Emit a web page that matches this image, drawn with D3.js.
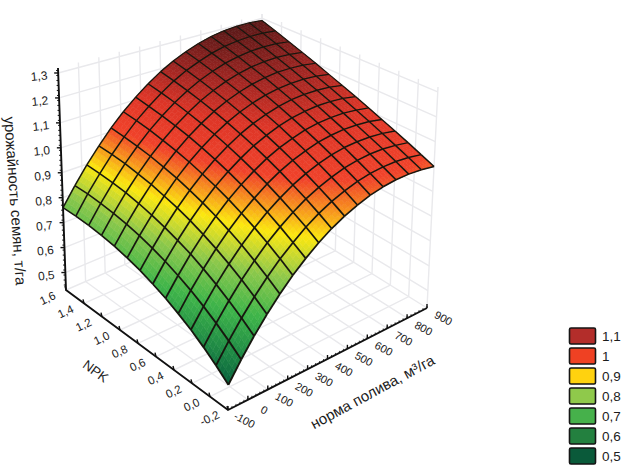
<!DOCTYPE html>
<html>
<head>
<meta charset="utf-8">
<script src="https://cdnjs.cloudflare.com/ajax/libs/d3/7.8.5/d3.min.js"></script>
<style>
body { margin: 0; background: #fff; }
text { font-family: "Liberation Sans", Arial, sans-serif; fill: #1c1c1c; }
</style>
</head>
<body>
<svg id="chart" width="621" height="465"></svg>
<script>
// values
var normaValues = [-100,-37.5,25,87.5,150,212.5,275,337.5,400,462.5,525,587.5,650,712.5,775,837.5,900];
var npkValues = [-0.2,-0.062,0.077,0.215,0.354,0.492,0.631,0.769,0.908,1.046,1.185,1.323,1.462,1.6];

// one row per npk value, one column per norma value
var yieldRows = [
  [.520,.588,.651,.709,.762,.810,.852,.890,.923,.950,.972,.990,1.002,1.009,1.011,1.008,1.000],
  [.557,.624,.686,.743,.795,.842,.883,.921,.953,.979,1.000,1.017,1.028,1.034,1.035,1.031,1.022],
  [.591,.657,.718,.775,.826,.873,.913,.949,.981,1.006,1.026,1.043,1.053,1.059,1.059,1.054,1.045],
  [.622,.687,.748,.804,.855,.901,.941,.976,1.007,1.032,1.052,1.068,1.078,1.082,1.082,1.077,1.067],
  [.649,.715,.775,.831,.881,.927,.966,1.002,1.032,1.057,1.076,1.092,1.101,1.106,1.105,1.100,1.089],
  [.674,.739,.800,.855,.905,.951,.990,1.025,1.056,1.080,1.099,1.115,1.124,1.128,1.128,1.122,1.112],
  [.695,.761,.821,.877,.927,.973,1.012,1.047,1.078,1.102,1.122,1.137,1.146,1.151,1.150,1.145,1.134],
  [.714,.779,.840,.896,.946,.992,1.032,1.067,1.098,1.123,1.142,1.158,1.168,1.172,1.172,1.167,1.156],
  [.729,.795,.856,.912,.964,1.010,1.050,1.086,1.117,1.142,1.162,1.178,1.188,1.193,1.193,1.188,1.178],
  [.742,.808,.870,.927,.978,1.025,1.066,1.102,1.134,1.160,1.181,1.197,1.208,1.214,1.214,1.210,1.201],
  [.751,.818,.881,.938,.991,1.038,1.080,1.117,1.150,1.176,1.198,1.215,1.227,1.233,1.235,1.231,1.223],
  [.757,.825,.889,.948,1.001,1.050,1.092,1.131,1.164,1.192,1.214,1.233,1.245,1.253,1.255,1.253,1.245],
  [.760,.830,.894,.954,1.009,1.059,1.102,1.142,1.177,1.206,1.229,1.249,1.263,1.271,1.275,1.274,1.268],
  [.760,.831,.897,.958,1.015,1.066,1.111,1.152,1.188,1.218,1.243,1.264,1.280,1.290,1.295,1.295,1.290]
];

var normaTicks = [-100,0,100,200,300,400,500,600,700,800,900];
var npkTicks = [-0.2,0,0.2,0.4,0.6,0.8,1,1.2,1.4,1.6];
var yieldTicks = [0.5,0.6,0.7,0.8,0.9,1,1.1,1.2,1.3];

var legendLabels = ["1,1","1","0,9","0,8","0,7","0,6","0,5"];
var legendColors = ["#b32d2a","#ef4123","#ffd20f","#8fc94b","#46b14b","#23803f","#0a5a3a"];

var colorStops = [0.5,0.6,0.7,0.8,0.855,0.9,0.96,1.02,1.12,1.2,1.3];
var colorRange = ["#03563a","#1f8a45","#3fb54a","#8cc84b","#c9d92f","#fbe70f","#f7941d","#f0422a","#dd3527","#a32622","#561817"];

var svg = d3.select("#chart");

var color = d3.scaleLinear().domain(colorStops).range(colorRange);

// data values to 0..1 along the box edges
var uScale = d3.scaleLinear().domain([-100,900]).range([0,1]);
var vScale = d3.scaleLinear().domain([-0.2,1.6]).range([0,1]);
var wScale = d3.scaleLinear().domain([0.43,1.32]).range([0,1]);

// the box on screen, bottom and top corners
var box = {
  front: [[228,410],[232,160]],
  right: [[427,308],[438,87]],
  left: [[66,290],[58,68]],
  back: [[262,205],[262,14]]
};

function mix(a, b, t) { return [a[0]+(b[0]-a[0])*t, a[1]+(b[1]-a[1])*t]; }

function project(u, v, w) {
  var bottom = mix(mix(box.front[0],box.right[0],u), mix(box.left[0],box.back[0],u), v);
  var top = mix(mix(box.front[1],box.right[1],u), mix(box.left[1],box.back[1],u), v);
  return mix(bottom, top, w);
}

function pt(x, n, z) { return project(uScale(x), vScale(n), wScale(z)); }

var line = d3.line();

// grid on the walls and floor
var grid = svg.append("g").attr("fill","none").attr("stroke","#e9e9ec").attr("stroke-width",1.4);
yieldTicks.forEach(function(z){
  grid.append("path").attr("d", line([pt(-100,1.6,z), pt(900,1.6,z), pt(900,-0.2,z)]));
});
normaTicks.forEach(function(x){
  grid.append("path").attr("d", line([pt(x,-0.2,0.43), pt(x,1.6,0.43), pt(x,1.6,1.32)]));
});
npkTicks.forEach(function(n){
  grid.append("path").attr("d", line([pt(-100,n,0.43), pt(900,n,0.43), pt(900,n,1.32)]));
});

// surface: each mesh cell is shaded in small steps so the colour runs smoothly
var shade = svg.append("g");
var steps = 4;
function cornerAt(j, i, s, t) {
  var z00 = yieldRows[j][i], z10 = yieldRows[j][i+1], z01 = yieldRows[j+1][i], z11 = yieldRows[j+1][i+1];
  var z = z00*(1-s)*(1-t) + z10*s*(1-t) + z01*(1-s)*t + z11*s*t;
  var x = normaValues[i] + (normaValues[i+1]-normaValues[i])*s;
  var n = npkValues[j] + (npkValues[j+1]-npkValues[j])*t;
  return {p: pt(x,n,z), z: z};
}
for (var j = npkValues.length-2; j >= 0; j--) {
  for (var i = normaValues.length-2; i >= 0; i--) {
    for (var a = 0; a < steps; a++) {
      for (var b = 0; b < steps; b++) {
        var c = [cornerAt(j,i,a/steps,b/steps), cornerAt(j,i,(a+1)/steps,b/steps),
                 cornerAt(j,i,(a+1)/steps,(b+1)/steps), cornerAt(j,i,a/steps,(b+1)/steps)];
        var col = color(d3.mean(c, function(d){ return d.z; }));
        shade.append("polygon")
          .attr("points", c.map(function(d){ return d.p.join(","); }).join(" "))
          .attr("fill", col).attr("stroke", col).attr("stroke-width",0.6);
      }
    }
  }
}

// mesh lines, thicker toward the viewer
var mesh = svg.append("g").attr("fill","none").attr("stroke","#17170f").attr("stroke-linejoin","round");
npkValues.forEach(function(n, j){
  for (var i = 0; i < normaValues.length-1; i++) {
    mesh.append("path")
      .attr("d", line([pt(normaValues[i],n,yieldRows[j][i]), pt(normaValues[i+1],n,yieldRows[j][i+1])]))
      .attr("stroke-width", 1.9 - 0.8*(j+i)/29);
  }
});
normaValues.forEach(function(x, i){
  for (var j = 0; j < npkValues.length-1; j++) {
    mesh.append("path")
      .attr("d", line([pt(x,npkValues[j],yieldRows[j][i]), pt(x,npkValues[j+1],yieldRows[j+1][i])]))
      .attr("stroke-width", 1.9 - 0.8*(j+i)/29);
  }
});

// axes
var axes = svg.append("g").attr("fill","none").attr("stroke","#111");
axes.append("path").attr("stroke-width",1.9)
  .attr("d", line([pt(-100,1.6,1.32), pt(-100,1.6,0.43), pt(-100,-0.2,0.43), pt(900,-0.2,0.43)]));

function tick(from, dx, dy, w) {
  axes.append("path").attr("stroke-width",w||1).attr("d", line([from,[from[0]+dx,from[1]+dy]]));
}
d3.range(0.45,1.31,0.02).forEach(function(z){ tick(pt(-100,1.6,z),-2,0,1); });
yieldTicks.forEach(function(z){ tick(pt(-100,1.6,z),-4,0,1.4); });
npkTicks.forEach(function(n){ tick(pt(-100,n,0.43),-1,-4,1.4); });
d3.range(-100,901,20).forEach(function(x){ tick(pt(x,-0.2,0.43),0,-2,0.8); });
normaTicks.forEach(function(x){ tick(pt(x,-0.2,0.43),0,-4,1.4); });

function comma(v) { return String(v).replace(".",","); }

function label(p, dx, dy, angle, txt, size) {
  return svg.append("text")
    .attr("transform", "translate("+(p[0]+dx)+","+(p[1]+dy)+") rotate("+angle+")")
    .attr("text-anchor","middle").attr("dominant-baseline","middle")
    .attr("font-size",size).text(txt);
}

yieldTicks.forEach(function(z){
  label(pt(-100,1.6,z), -19, 4, -6, z === 1 ? "1,0" : comma(z), 12);
});
npkTicks.forEach(function(n){
  label(pt(-100,n,0.43), -18, 9, -25, n === 0 ? "0,0" : n === 1 ? "1,0" : comma(n), 11.5);
});
normaTicks.forEach(function(x){
  label(pt(x,-0.2,0.43), 16, 11, 28, comma(x), 11);
});

label([14,201],0,0,86,"урожайность семян, т/га",15);
label([95,372],0,0,36,"NPK",13.5);
label([373,393],0,0,-28.5,"норма полива, м³/га",15);

// legend
var legendY = d3.scaleBand().domain(legendLabels).range([328,468]);
var legend = svg.append("g").selectAll("g").data(legendLabels).enter().append("g");
legend.append("rect")
  .attr("x",569.5).attr("y",function(d){ return legendY(d); })
  .attr("width",26).attr("height",16).attr("rx",1.5)
  .attr("fill",function(d,i){ return legendColors[i]; })
  .attr("stroke","#151515").attr("stroke-width",1.6);
legend.append("text")
  .attr("x",602).attr("y",function(d){ return legendY(d)+13; })
  .attr("font-size",13.5).text(function(d){ return d; });
</script>
</body>
</html>
